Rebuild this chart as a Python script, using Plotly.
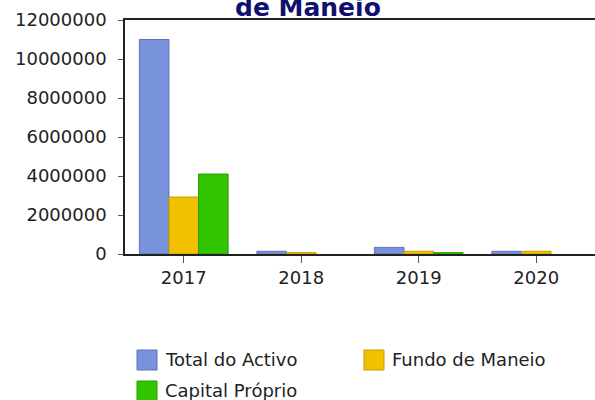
import plotly.graph_objects as go

categories = ["2017", "2018", "2019", "2020"]
total_activo = [11000000, 140000, 340000, 140000]
fundo_maneio = [2920000, 70000, 140000, 140000]
capital_proprio = [4100000, None, 70000, None]
series_names = ["Total do Activo", "Fundo de Maneio", "Capital Próprio"]
title_text = "de Maneio"

fills = ["#7892dc", "#f2c200", "#33c400"]
lines = ["#5b72b8", "#c89a00", "#26a000"]

W, H = 595, 400
L, R, T, B = 125, 0, 20, 146
PW, PH = W - L - R, H - T - B

def px(x):
    return (x - L) / PW

def py(y):
    return (H - B - y) / PH

fig = go.Figure()
for name, vals, f, lc in zip(series_names, [total_activo, fundo_maneio, capital_proprio], fills, lines):
    fig.add_trace(go.Bar(x=categories, y=vals, name=name, marker=dict(color=f, line=dict(color=lc, width=1)),
                         showlegend=False))

font = "DejaVu Sans, Verdana, sans-serif"
shapes = []
annotations = []
legend_items = [(137, 350, series_names[0]), (364, 350, series_names[1]), (137, 381, series_names[2])]
for (x0, y0, name), f, lc in zip(legend_items, fills, lines):
    shapes.append(dict(type="rect", xref="paper", yref="paper", x0=px(x0), x1=px(x0 + 20), y0=py(y0), y1=py(y0 + 20),
                       fillcolor=f, line=dict(color=lc, width=1)))
    annotations.append(dict(xref="paper", yref="paper", x=px(x0 + 26), y=py(y0 + 9), text=name, showarrow=False,
                            xanchor="left", yanchor="middle", font=dict(family=font, size=18, color="#222")))

annotations.append(dict(xref="paper", yref="paper", x=px(308), y=py(7.5), text="<b>" + title_text + "</b>",
                        showarrow=False, xanchor="center", yanchor="middle",
                        font=dict(family=font, size=25, color="#10106e")))

fig.update_layout(
    width=W, height=H, margin=dict(l=L, r=R, t=T, b=B, autoexpand=False),
    paper_bgcolor="white", plot_bgcolor="white",
    barmode="group", bargap=0.245, bargroupgap=0,
    showlegend=False,
    shapes=shapes, annotations=annotations,
    font=dict(family=font, size=18, color="#222"),
    xaxis=dict(range=[-0.5, 3.5], showline=True, linecolor="#222", linewidth=1.5, mirror=True,
               ticks="outside", ticklen=7, tickcolor="#555", showgrid=False, zeroline=False,
               tickfont=dict(size=18, color="#222")),
    yaxis=dict(range=[0, 12000000], dtick=2000000, tickformat="d", showline=True, linecolor="#222",
               linewidth=1.5, ticks="outside", ticklen=5, tickcolor="#555", showgrid=False, zeroline=False,
               tickfont=dict(size=18, color="#222"), ticklabelstandoff=8),
)

fig.write_html("out.html", config={"displayModeBar": False},
               post_script="document.body.style.margin='0';")
